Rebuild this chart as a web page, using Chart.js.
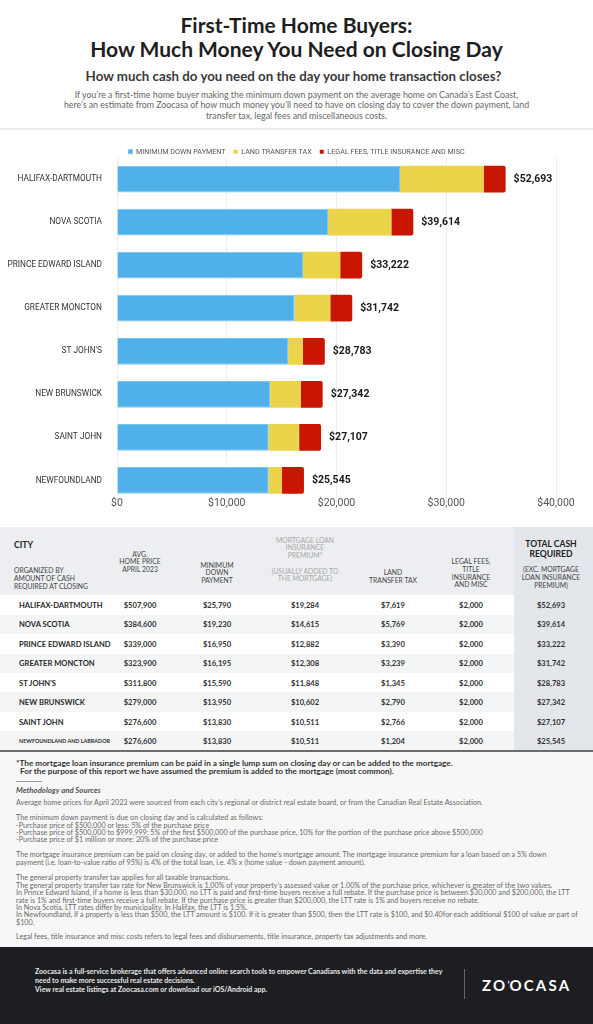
<!DOCTYPE html>
<html>
<head>
<meta charset="utf-8">
<title>First-Time Home Buyers: How Much Money You Need on Closing Day</title>
<script src="https://cdn.jsdelivr.net/npm/chart.js@4.4.0/dist/chart.umd.min.js"></script>
<style>
  body { margin: 0; background: #fff; font-family: Lato, 'Noto Sans', sans-serif; }
  #page { position: relative; width: 593px; height: 1024px; overflow: hidden; background: #fff; }
  .abs { position: absolute; }
  #title { top: 13px; left: 0; width: 593px; text-align: center; font-weight: 700; font-size: 21px; line-height: 24px; color: #1e1e1e; }
  #subtitle { top: 68px; left: 0; width: 587px; text-align: center; font-weight: 700; font-size: 13.3px; line-height: 16px; color: #3a3a3a; }
  #intro { top: 89.5px; left: 0; width: 593px; text-align: center; font-size: 8.8px; line-height: 10.5px; color: #666; }
  #sep { top: 128px; left: 0; width: 593px; height: 2px; background: #ececec; }
  #chartBox { top: 130px; left: 0; width: 593px; height: 390px; }
  #table { top: 527px; left: 0; width: 593px; height: 224px; }
  .th { position: absolute; text-align: center; font-size: 6.8px; line-height: 7.8px; color: #444; transform: translateX(-50%); white-space: nowrap; }
  .td { position: absolute; text-align: center; font-size: 7.6px; font-weight: 700; color: #333; transform: translate(-50%, -50%); white-space: nowrap; }
  .city { position: absolute; left: 19px; font-size: 7.6px; font-weight: 700; color: #2a2a2a; transform: translateY(-50%); white-space: nowrap; }
  #notes { top: 752px; left: 0; width: 593px; height: 195px; background: #f7f7f7; }
  #notes div { position: absolute; left: 16px; white-space: nowrap; }
  .note { font-size: 7.2px; line-height: 7.4px; color: #6a6a6a; }
  #footer { top: 947px; left: 0; width: 593px; height: 77px; background: #1d1e22; }
</style>
</head>
<body>
<div id="page">
  <div id="title" class="abs">First-Time Home Buyers:<br>How Much Money You Need on Closing Day</div>
  <div id="subtitle" class="abs">How much cash do you need on the day your home transaction closes?</div>
  <div id="intro" class="abs">If you’re a first-time home buyer making the minimum down payment on the average home on Canada’s East Coast,<br>here’s an estimate from Zoocasa of how much money you’ll need to have on closing day to cover the down payment, land<br>transfer tax, legal fees and miscellaneous costs.</div>
  <div id="sep" class="abs"></div>
  <div id="chartBox" class="abs"><canvas id="closingChart"></canvas></div>
  <div id="table" class="abs"></div>
  <div id="notes" class="abs">
    <div style="top:7px;font-size:8.2px;line-height:8px;font-weight:700;color:#333;">*The mortgage loan insurance premium can be paid in a single lump sum on closing day or can be added to the mortgage.<br>&nbsp;&nbsp;For the purpose of this report we have assumed the premium is added to the mortgage (most common).</div>
    <div style="top:29px;width:26px;height:1px;background:#999;"></div>
    <div style="top:34px;font-size:7.8px;line-height:8px;font-weight:700;font-style:italic;color:#555;">Methodology and Sources</div>
    <div class="note" style="top:47.3px;">Average home prices for April 2023 were sourced from each city’s regional or district real estate board, or from the Canadian Real Estate Association.</div>
    <div class="note" style="top:62.1px;">The minimum down payment is due on closing day and is calculated as follows:<br>-Purchase price of $500,000 or less: 5% of the purchase price<br>-Purchase price of $500,000 to $999,999: 5% of the first $500,000 of the purchase price, 10% for the portion of the purchase price above $500,000<br>-Purchase price of $1 million or more: 20% of the purchase price</div>
    <div class="note" style="top:99.3px;">The mortgage insurance premium can be paid on closing day, or added to the home’s mortgage amount. The mortgage insurance premium for a loan based on a 5% down<br>payment (i.e. loan-to-value ratio of 95%) is 4% of the total loan, i.e. 4% x (home value - down payment amount).</div>
    <div class="note" style="top:122.3px;">The general property transfer tax applies for all taxable transactions.<br>The general property transfer tax rate for New Brunswick is 1.00% of your property’s assessed value or 1.00% of the purchase price, whichever is greater of the two values.<br>In Prince Edward Island, if a home is less than $30,000, no LTT is paid and first-time buyers receive a full rebate. If the purchase price is between $30,000 and $200,000, the LTT<br>rate is 1% and first-time buyers receive a full rebate. If the purchase price is greater than $200,000, the LTT rate is 1% and buyers receive no rebate.<br>In Nova Scotia, LTT rates differ by municipality. In Halifax, the LTT is 1.5%.<br>In Newfoundland, If a property is less than $500, the LTT amount is $100. If it is greater than $500, then the LTT rate is $100, and $0.40for each additional $100 of value or part of<br>$100.</div>
    <div class="note" style="top:181.3px;">Legal fees, title insurance and misc costs refers to legal fees and disbursements, title insurance, property tax adjustments and more.</div>
  </div>
  <div id="footer" class="abs">
    <div class="abs" style="left:35px;top:19.5px;font-size:7px;line-height:9px;font-weight:700;color:#e6e6e6;white-space:nowrap;">Zoocasa is a full-service brokerage that offers advanced online search tools to empower Canadians with the data and expertise they<br>need to make more successful real estate decisions.<br>View real estate listings at Zoocasa.com or download our iOS/Android app.</div>
    <div class="abs" style="left:464px;top:22px;width:1px;height:30px;background:#666;"></div>
    <div class="abs" style="left:482px;top:29px;font-size:15px;line-height:18px;font-weight:700;letter-spacing:2.2px;color:#fff;white-space:nowrap;">ZO<span style="font-size:9px;vertical-align:top;letter-spacing:0;">’</span>OCASA</div>
  </div>
</div>

<script>
const cities = ['HALIFAX-DARTMOUTH', 'NOVA SCOTIA', 'PRINCE EDWARD ISLAND', 'GREATER MONCTON', 'ST JOHN\'S', 'NEW BRUNSWICK', 'SAINT JOHN', 'NEWFOUNDLAND'];
const tableCities = ['HALIFAX-DARTMOUTH', 'NOVA SCOTIA', 'PRINCE EDWARD ISLAND', 'GREATER MONCTON', 'ST JOHN\'S', 'NEW BRUNSWICK', 'SAINT JOHN', 'NEWFOUNDLAND AND LABRADOR'];
const avgHomePrice = [507900, 384600, 339000, 323900, 311800, 279000, 276600, 276600];
const minDownPayment = [25790, 19230, 16950, 16195, 15590, 13950, 13830, 13830];
const insurancePremium = [19284, 14615, 12882, 12308, 11848, 10602, 10511, 10511];
const landTransferTax = [7619, 5769, 3390, 3239, 1345, 2790, 2766, 1204];
const legalFees = [2000, 2000, 2000, 2000, 2000, 2000, 2000, 2000];
const totalCash = [52693, 39614, 33222, 31742, 28783, 27342, 27107, 25545];
const xTicks = [0, 10000, 20000, 30000, 40000];

const chartFont = "Roboto, 'Noto Sans', sans-serif";
const money = v => '$' + v.toLocaleString('en-US');

// Etykiety sum na końcu słupków
const totalsPlugin = {
  id: 'totals',
  afterDatasetsDraw(chart) {
    const meta = chart.getDatasetMeta(chart.data.datasets.length - 1);
    const ctx = chart.ctx;
    ctx.save();
    ctx.font = 'bold 10.5px ' + chartFont;
    ctx.fillStyle = '#1a1a1a';
    ctx.textAlign = 'left';
    ctx.textBaseline = 'middle';
    meta.data.forEach((bar, i) => {
      ctx.fillText(money(totalCash[i]), bar.x + 8, bar.y);
    });
    ctx.restore();
  }
};

new Chart(document.getElementById('closingChart').getContext('2d'), {
  type: 'bar',
  data: {
    labels: cities,
    datasets: [
      { label: 'MINIMUM DOWN PAYMENT', data: minDownPayment, backgroundColor: '#4fb0ea', borderColor: '#7cc4ef', borderWidth: 1 },
      { label: 'LAND TRANSFER TAX', data: landTransferTax, backgroundColor: '#ebd34a', borderColor: '#ebd34a', borderWidth: 0 },
      { label: 'LEGAL FEES, TITLE INSURANCE AND MISC', data: legalFees, backgroundColor: '#c81600', borderColor: '#c81600', borderWidth: 0, borderRadius: { topRight: 2, bottomRight: 2 }, borderSkipped: false }
    ]
  },
  options: {
    indexAxis: 'y',
    responsive: true,
    maintainAspectRatio: false,
    animation: false,
    datasets: { bar: { barPercentage: 1, categoryPercentage: 0.62 } },
    layout: { padding: { top: 10.1, bottom: 18, left: 0, right: 0 } },
    scales: {
      x: {
        stacked: true,
        min: 0,
        max: 40000,
        afterBuildTicks: scale => { scale.ticks = xTicks.map(v => ({ value: v })); },
        afterFit: scale => { scale.height = 0; },
        grid: { color: '#ececec', drawTicks: false },
        border: { display: false },
        ticks: { mirror: true, padding: -7.8, color: '#555', font: { family: chartFont, size: 10.5 }, callback: v => money(v) }
      },
      y: {
        stacked: true,
        grid: { display: false },
        border: { display: false },
        afterFit: scale => { scale.width = 117; },
        ticks: { padding: 7, color: '#333', font: { family: chartFont, size: 8.3 } }
      },
      // pusta oś po prawej - zostawia miejsce na etykiety sum
      yRight: {
        type: 'category',
        position: 'right',
        grid: { display: false },
        border: { display: false },
        ticks: { display: false },
        afterFit: scale => { scale.width = 37; }
      }
    },
    plugins: {
      legend: {
        position: 'top',
        maxHeight: 17.4,
        labels: { usePointStyle: true, pointStyle: 'rect', boxWidth: 4, boxHeight: 4, padding: 8, color: '#555', font: { family: chartFont, size: 7.2 } }
      },
      tooltip: { enabled: false }
    }
  },
  plugins: [totalsPlugin]
});

// Tabela
const table = document.getElementById('table');
const colX = [140, 217, 305, 393, 471, 551];
const rowTop = 68.3, rowH = 19.43;
let html = '<div class="abs" style="left:0;top:0;width:593px;height:68.3px;background:#eceef1;"></div>';
tableCities.forEach((c, i) => {
  const bg = i % 2 === 0 ? '#ffffff' : '#f4f5f6';
  html += `<div class="abs" style="left:0;top:${rowTop + i * rowH}px;width:593px;height:${rowH}px;background:${bg};"></div>`;
});
html += '<div class="abs" style="left:514px;top:0;width:79px;height:224px;background:#e3e7eb;"></div>';
html += '<div class="abs" style="left:0;top:223px;width:593px;height:2px;background:#6d6d6d;box-shadow:0 1px 2px rgba(0,0,0,0.25);"></div>';
// Nagłówki
html += '<div class="abs" style="left:14px;top:13px;font-size:8.6px;font-weight:700;color:#222;">CITY</div>';
html += '<div class="abs" style="left:14px;top:38.5px;font-size:6.8px;line-height:8.2px;color:#444;white-space:nowrap;">ORGANIZED BY<br>AMOUNT OF CASH<br>REQUIRED AT CLOSING</div>';
html += `<div class="th" style="left:${colX[0]}px;top:23.5px;">AVG.<br>HOME PRICE<br>APRIL 2023</div>`;
html += `<div class="th" style="left:${colX[1]}px;top:34.5px;">MINIMUM<br>DOWN<br>PAYMENT</div>`;
html += `<div class="th" style="left:${colX[2]}px;top:9.5px;color:#a8a8a8;">MORTGAGE LOAN<br>INSURANCE<br>PREMIUM*<br><br>(USUALLY ADDED TO<br>THE MORTGAGE)</div>`;
html += `<div class="th" style="left:${colX[3]}px;top:42px;">LAND<br>TRANSFER TAX</div>`;
html += `<div class="th" style="left:${colX[4]}px;top:31px;">LEGAL FEES,<br>TITLE<br>INSURANCE<br>AND MISC</div>`;
html += `<div class="th" style="left:${colX[5]}px;top:12px;font-size:8.6px;line-height:10px;font-weight:700;color:#222;">TOTAL CASH<br>REQUIRED</div>`;
html += `<div class="th" style="left:${colX[5]}px;top:39px;">(EXC. MORTGAGE<br>LOAN INSURANCE<br>PREMIUM)</div>`;
// Wiersze
tableCities.forEach((c, i) => {
  const cy = rowTop + i * rowH + rowH / 2;
  const small = c.length > 22 ? 'font-size:5.4px;' : '';
  html += `<div class="city" style="top:${cy}px;${small}">${c}</div>`;
  const vals = [avgHomePrice[i], minDownPayment[i], insurancePremium[i], landTransferTax[i], legalFees[i], totalCash[i]];
  vals.forEach((v, j) => {
    html += `<div class="td" style="left:${colX[j]}px;top:${cy}px;">${money(v)}</div>`;
  });
});
table.innerHTML = html;
</script>
</body>
</html>
